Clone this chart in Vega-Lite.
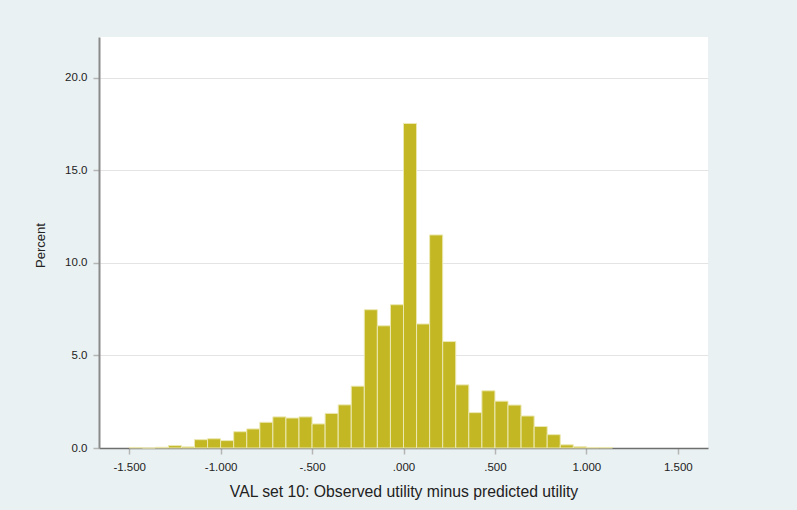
{
  "$schema": "https://vega.github.io/schema/vega-lite/v6.json",
  "autosize": {"type": "none"},
  "width": 609,
  "height": 411,
  "padding": {"left": 99, "top": 37, "right": 89, "bottom": 62},
  "background": "#EAF1F2",
  "config": {
    "view": {"fill": "#FFFFFF", "stroke": null},
    "font": "Liberation Sans",
    "axis": {
      "labelFont": "Liberation Sans",
      "titleFont": "Liberation Sans",
      "labelColor": "#222222",
      "titleColor": "#222222",
      "titleFontWeight": "normal"
    }
  },
  "data": {
    "values": [
      {"lo": -1.5, "hi": -1.4286, "pct": 0.03},
      {"lo": -1.4286, "hi": -1.3571, "pct": 0.0},
      {"lo": -1.3571, "hi": -1.2857, "pct": 0.04},
      {"lo": -1.2857, "hi": -1.2143, "pct": 0.13},
      {"lo": -1.2143, "hi": -1.1429, "pct": 0.06},
      {"lo": -1.1429, "hi": -1.0714, "pct": 0.45},
      {"lo": -1.0714, "hi": -1.0, "pct": 0.5},
      {"lo": -1.0, "hi": -0.9286, "pct": 0.4},
      {"lo": -0.9286, "hi": -0.8571, "pct": 0.88},
      {"lo": -0.8571, "hi": -0.7857, "pct": 1.03},
      {"lo": -0.7857, "hi": -0.7143, "pct": 1.39},
      {"lo": -0.7143, "hi": -0.6429, "pct": 1.68},
      {"lo": -0.6429, "hi": -0.5714, "pct": 1.62},
      {"lo": -0.5714, "hi": -0.5, "pct": 1.68},
      {"lo": -0.5, "hi": -0.4286, "pct": 1.3},
      {"lo": -0.4286, "hi": -0.3571, "pct": 1.87},
      {"lo": -0.3571, "hi": -0.2857, "pct": 2.33},
      {"lo": -0.2857, "hi": -0.2143, "pct": 3.34},
      {"lo": -0.2143, "hi": -0.1429, "pct": 7.47},
      {"lo": -0.1429, "hi": -0.0714, "pct": 6.6},
      {"lo": -0.0714, "hi": 0.0, "pct": 7.74},
      {"lo": 0.0, "hi": 0.0714, "pct": 17.53},
      {"lo": 0.0714, "hi": 0.1429, "pct": 6.7},
      {"lo": 0.1429, "hi": 0.2143, "pct": 11.51},
      {"lo": 0.2143, "hi": 0.2857, "pct": 5.75},
      {"lo": 0.2857, "hi": 0.3571, "pct": 3.41},
      {"lo": 0.3571, "hi": 0.4286, "pct": 1.91},
      {"lo": 0.4286, "hi": 0.5, "pct": 3.09},
      {"lo": 0.5, "hi": 0.5714, "pct": 2.53},
      {"lo": 0.5714, "hi": 0.6429, "pct": 2.32},
      {"lo": 0.6429, "hi": 0.7143, "pct": 1.73},
      {"lo": 0.7143, "hi": 0.7857, "pct": 1.16},
      {"lo": 0.7857, "hi": 0.8571, "pct": 0.72},
      {"lo": 0.8571, "hi": 0.9286, "pct": 0.17},
      {"lo": 0.9286, "hi": 1.0, "pct": 0.07},
      {"lo": 1.0, "hi": 1.0714, "pct": 0.03},
      {"lo": 1.0714, "hi": 1.1429, "pct": 0.03}
    ]
  },
  "mark": {
    "type": "rect",
    "fill": "#C3B824",
    "stroke": "#ECE8B2",
    "strokeWidth": 1
  },
  "encoding": {
    "x": {
      "field": "lo",
      "type": "quantitative",
      "scale": {"domain": [-1.665, 1.665], "nice": false, "zero": false},
      "axis": {
        "values": [-1.5, -1, -0.5, 0, 0.5, 1, 1.5],
        "labelExpr": "(datum.value < 0 ? '-' : '') + replace(format(abs(datum.value), '.3f'), regexp('^0\\\\.'), '.')",
        "grid": false,
        "tickSize": 6,
        "tickColor": "#B5B5B5",
        "tickWidth": 1.5,
        "domainColor": "#6E6E6E",
        "domainWidth": 1.5,
        "labelFontSize": 11.5,
        "labelPadding": 7,
        "title": "VAL set 10: Observed utility minus predicted utility",
        "titleFontSize": 15.75,
        "titlePadding": 12
      }
    },
    "x2": {"field": "hi"},
    "y": {
      "field": "pct",
      "type": "quantitative",
      "scale": {"domain": [0, 22.2], "nice": false},
      "axis": {
        "values": [0, 5, 10, 15, 20],
        "format": ".1f",
        "grid": true,
        "gridColor": "#E4E4E4",
        "gridWidth": 1,
        "tickSize": 6,
        "tickColor": "#B5B5B5",
        "tickWidth": 1.5,
        "domainColor": "#8A8A8A",
        "domainWidth": 2,
        "labelFontSize": 11.5,
        "labelPadding": 6,
        "title": "Percent",
        "titleFontSize": 13,
        "titlePadding": 17,
        "titleY": 208
      }
    },
    "y2": {"datum": 0}
  }
}
